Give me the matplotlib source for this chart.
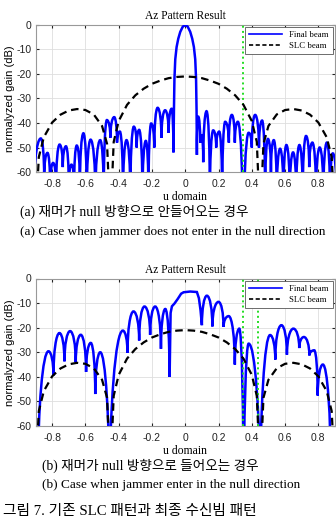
import matplotlib
matplotlib.use("Agg")
import matplotlib.pyplot as plt
import numpy as np
from matplotlib.path import Path
from matplotlib.patches import PathPatch
from matplotlib.lines import Line2D

WIDTH = 336
HEIGHT = 524
DPI = 100
nan = np.nan

# SLC beam (same in both panels)
slc_u = [-0.9, -0.88, -0.85, -0.8, -0.75, -0.7, -0.65, -0.6, -0.55, -0.5, -0.47, -0.45,
         -0.43, -0.4, -0.35, -0.3, -0.25, -0.2, -0.15, -0.1, -0.05, 0.0,
         0.05, 0.1, 0.15, 0.2, 0.25, 0.3, 0.35, 0.4, 0.43,
         0.45, 0.47, 0.5, 0.55, 0.6, 0.65, 0.7, 0.75, 0.8, 0.85, 0.88, 0.9]
slc_db = [-80, -53.9, -45.8, -39.8, -36.6, -34.9, -34.3, -34.7, -36.5, -41.2, -48.5, -80,
          -47.7, -39.2, -32.6, -28.7, -26.0, -24.0, -22.7, -21.7, -21.2, -21.0,
          -21.2, -21.7, -22.7, -24.0, -26.0, -28.7, -32.6, -39.2, -47.7,
          -80, -48.5, -41.2, -36.5, -34.7, -34.3, -34.9, -36.6, -39.8, -45.8, -53.9, -80]

# (a) final beam: nulls (u, dB) and the lobe peak between each pair of nulls
# nan peak -> straight piece between the two nodes
a_null_u = [-0.915, -0.848, -0.812, -0.776, -0.736, -0.700, -0.668, -0.633, -0.592, -0.540, -0.490,
            -0.450, -0.410, -0.374, -0.330, -0.292, -0.257, -0.221, -0.186, -0.143, -0.100, -0.071,
            -0.068, -0.065, -0.060, -0.052, -0.042, -0.030, -0.015, 0.0, 0.015, 0.030, 0.042, 0.052,
            0.060, 0.065, 0.068,
            0.070, 0.090, 0.108, 0.148, 0.186, 0.222, 0.262, 0.298, 0.349, 0.400, 0.443, 0.480,
            0.515, 0.550, 0.590, 0.628, 0.667, 0.706, 0.745, 0.786, 0.830, 0.870, 0.910]
a_null_db = [-75, -62, -66, -66, -58, -66, -66, -66, -70, -70, -70,
             -46, -48, -70, -70, -50, -70, -70, -50, -46, -44, -52,
             -35, -22, -14, -9, -5.6, -2.8, -0.7, 0, -0.7, -2.8, -5.6, -9,
             -14, -22, -35,
             -53, -48, -56, -70, -50, -70, -48, -48, -95, -50, -50, -70,
             -60, -70, -70, -70, -70, -70, -58, -70, -70, -70, -70]
a_peak_u = [-0.868, -0.828, -0.794, -0.755, -0.717, -0.684, -0.652, -0.612, -0.569, -0.511, -0.471,
            -0.427, -0.393, -0.353, -0.309, -0.277, -0.237, -0.205, -0.166, -0.121, -0.082,
            nan, nan, nan, nan, nan, nan, nan, nan, nan, nan, nan, nan, nan, nan, nan, nan,
            0.078, 0.099, 0.128, 0.168, 0.204, 0.240, 0.280, 0.316, 0.381, 0.420, 0.462,
            0.497, 0.532, 0.570, 0.608, 0.648, 0.686, 0.726, 0.764, 0.808, 0.851, 0.887]
a_peak_db = [-46.3, -52.2, -56.3, -48.8, -49.5, -57, -49.2, -44.2, -46.8, -47, -38.8,
             -37.6, -43.5, -47, -41.5, -42.8, -47.3, -40.2, -33.8, -34.8, -34.2,
             nan, nan, nan, nan, nan, nan, nan, nan, nan, nan, nan, nan, nan, nan, nan, nan,
             -37.4, -45, -35.2, -43, -43.5, -39.5, -36.7, -39.5, -44, -36.7, -39,
             -46.5, -47, -50.5, -49, -52, -49, -45.3, -48, -50, -48, -52.4]

# (b) final beam
b_null_u = [-0.885, -0.792, -0.726, -0.658, -0.596, -0.541, -0.455, -0.347, -0.277, -0.211, -0.146, -0.094,
            -0.088, -0.080, -0.065, -0.045, -0.025, -0.010, 0.030, 0.070, 0.082, 0.092, 0.100,
            0.163, 0.230, 0.298, 0.351, 0.450, 0.541, 0.611, 0.685, 0.746, 0.796, 0.875]
b_null_db = [-80, -39.4, -33.7, -34, -38, -47, -90, -30.2, -25.2, -22.9, -28.6, -40,
             -14, -11.3, -10.2, -8.3, -6.2, -5.6, -5.3, -5.5, -8, -13, -19,
             -19.5, -19.7, -35, -95, -90, -33, -31, -28.3, -31.3, -47.6, -80]
b_peak_u = [-0.822, -0.756, -0.692, -0.628, -0.568, -0.511, -0.375, -0.311, -0.245, -0.181, -0.120,
            nan, nan, nan, nan, nan, nan, nan, nan, nan, nan, nan,
            0.130, 0.200, 0.261, 0.325, 0.381, 0.510, 0.578, 0.650, 0.713, 0.775, 0.827]
b_peak_db = [-29.6, -22.2, -21.4, -22.9, -26.2, -30, -21.2, -13.4, -11.4, -11.4, -12.4,
             nan, nan, nan, nan, nan, nan, nan, nan, nan, nan, nan,
             -7, -9.5, -15.3, -20.4, -26.5, -23, -19, -20.4, -23.8, -29.2, -35]

a_jammer = [0.35]
b_jammer = [0.35, 0.435]

x_ticks = [-0.8, -0.6, -0.4, -0.2, 0, 0.2, 0.4, 0.6, 0.8]
x_tick_labels = ["-0.8", "-0.6", "-0.4", "-0.2", "0", "0.2", "0.4", "0.6", "0.8"]
y_ticks = [0, -10, -20, -30, -40, -50, -60]

SERIF = "Liberation Serif"
KR = ["Liberation Serif", "Noto Sans CJK KR"]
BLUE = "#0000ff"


def lobe_path(null_u, null_db, peak_u, peak_db, k=0.55):
    """Beam pattern as rounded lobes between nulls."""
    verts = [(null_u[0], null_db[0])]
    codes = [Path.MOVETO]
    for i in range(len(peak_u)):
        u0, d0 = null_u[i], null_db[i]
        u1, d1 = null_u[i + 1], null_db[i + 1]
        pu, pd = peak_u[i], peak_db[i]
        if np.isnan(pu):
            verts.append((u1, d1))
            codes.append(Path.LINETO)
            continue
        verts += [(u0, d0 + k * (pd - d0)), (pu - k * (pu - u0), pd), (pu, pd),
                  (pu + k * (u1 - pu), pd), (u1, d1 + k * (pd - d1)), (u1, d1)]
        codes += [Path.CURVE4] * 6
    return Path(verts, codes)


def draw_panel(fig, rect, null_u, null_db, peak_u, peak_db, jammers):
    ax = fig.add_axes(rect)
    ax.grid(True, color="#dedede", linewidth=0.6)
    ax.set_axisbelow(True)

    for j in jammers:
        ax.axvline(j, color="#22dd22", linestyle=":", linewidth=1.4, zorder=4)

    patch = PathPatch(lobe_path(null_u, null_db, peak_u, peak_db), facecolor="none",
                      edgecolor=BLUE, linewidth=1.8, transform=ax.transData, zorder=3)
    ax.add_patch(patch)
    ax.plot(slc_u, slc_db, color="black", linestyle=(0, (3.4, 2.2)), linewidth=1.6, zorder=5)

    ax.set_xlim(-0.9, 0.9)
    ax.set_ylim(-60, 0)
    ax.set_xticks(x_ticks)
    ax.set_xticklabels(x_tick_labels)
    ax.set_yticks(y_ticks)
    ax.tick_params(direction="in", length=2, labelsize=7.5, colors="#222222",
                   top=True, right=True)
    ax.tick_params(axis="x", pad=5)
    ax.tick_params(axis="y", pad=3)
    for s in ax.spines.values():
        s.set_color("#999999")
        s.set_linewidth(0.8)

    ax.set_title("Az Pattern Result", family=SERIF, fontsize=8.3, pad=4)
    ax.set_xlabel("u domain", family=SERIF, fontsize=8.5, labelpad=1.5)
    ax.set_ylabel("normalyzed gain (dB)", fontsize=8, labelpad=1)

    handles = [Line2D([], [], color=BLUE, linewidth=1.2),
               Line2D([], [], color="black", linestyle=(0, (2.5, 1.5)), linewidth=1.2)]
    leg = ax.legend(handles, ["Final beam", "SLC beam"], loc="upper right",
                    prop={"family": SERIF, "size": 6.3}, fancybox=False,
                    edgecolor="#555555", framealpha=1, handlelength=3.8,
                    borderaxespad=0.25, borderpad=0.45, labelspacing=0.35)
    leg.get_frame().set_linewidth(0.6)
    return ax


def main():
    plt.rcParams["axes.unicode_minus"] = False
    plt.rcParams["font.family"] = ["Liberation Sans", "DejaVu Sans"]

    fig = plt.figure(figsize=(WIDTH / DPI, HEIGHT / DPI), dpi=DPI)

    def rect(left, top, right, bottom):
        return [left / WIDTH, 1 - bottom / HEIGHT, (right - left) / WIDTH, (bottom - top) / HEIGHT]

    draw_panel(fig, rect(35.5, 25, 335, 172), a_null_u, a_null_db, a_peak_u, a_peak_db, a_jammer)
    draw_panel(fig, rect(35.5, 278.5, 335, 426), b_null_u, b_null_db, b_peak_u, b_peak_db, b_jammer)

    def caption(x, y, s, size):
        fig.text(x / WIDTH, 1 - y / HEIGHT, s, family=KR, fontsize=size, va="center", ha="left")

    caption(20, 212, "(a) 재머가 null 방향으로 안들어오는 경우", 9.8)
    caption(20, 232, "(a) Case when jammer does not enter in the null direction", 9.5)
    caption(42, 466, "(b) 재머가 null 방향으로 들어오는 경우", 9.8)
    caption(42, 485, "(b) Case when jammer enter in the null direction", 9.5)
    caption(3, 512, "그림 7. 기존 SLC 패턴과 최종 수신빔 패턴", 10.6)

    fig.savefig("out.png", dpi=DPI)
    plt.close(fig)


if __name__ == "__main__":
    main()
